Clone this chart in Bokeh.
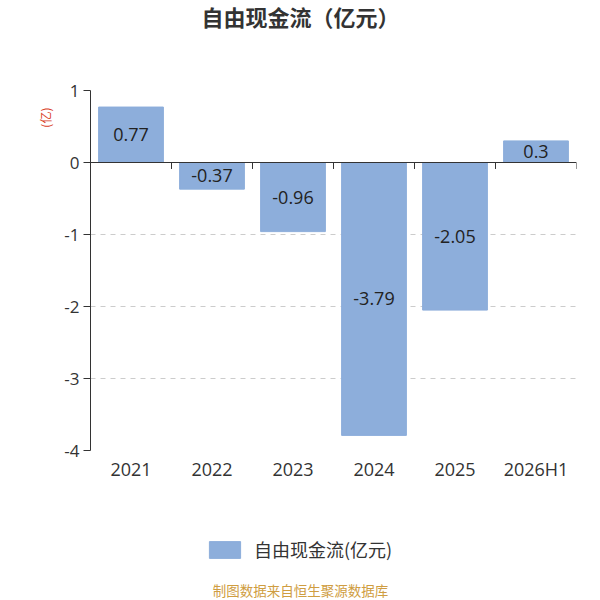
import math
from bokeh.plotting import figure
from bokeh.layouts import column, row
from bokeh.models import Range1d, FixedTicker, Label, Legend, LegendItem, ColumnDataSource
from bokeh.core.properties import value
from bokeh.embed import file_html
from bokeh.resources import INLINE

categories = ["2021", "2022", "2023", "2024", "2025", "2026H1"]
values = [0.77, -0.37, -0.96, -3.79, -2.05, 0.3]
y_ticks = [1, 0, -1, -2, -3, -4]
title_text = "自由现金流（亿元）"
unit_text = "(亿)"
legend_text = "自由现金流(亿元)"
footer_text = "制图数据来自恒生聚源数据库"

CJK = "Noto Sans CJK SC"
NUM = "Open Sans"
BAR = "#8DAEDB"
DARK = "#333333"


def blank(w, h):
    f = figure(width=w, height=h, x_range=Range1d(0, w), y_range=Range1d(0, h),
               output_backend="svg", toolbar_location=None, x_axis_type=None, y_axis_type=None,
               min_border=0)
    f.outline_line_color = None
    f.xgrid.visible = False
    f.ygrid.visible = False
    return f


# ---- top: title
top = blank(600, 78)
top.add_layout(Label(x=300, y=63, text=title_text, text_align="center", text_baseline="middle",
                     text_font=CJK, text_font_size="22px", text_font_style="bold", text_color=DARK))

# ---- left strip: unit label
strip = blank(56, 412)
strip.add_layout(Label(x=45, y=381, text=unit_text, angle=math.pi / 2, text_align="center",
                       text_baseline="middle", text_font=CJK, text_font_size="12px",
                       text_color="#D9401F"))

# ---- main chart
n = len(categories)
xs = [i + 0.5 for i in range(n)]
src = ColumnDataSource(dict(x=xs, top=values, mid=[v / 2 for v in values],
                            lab=[str(v) for v in values]))

p = figure(width=544, height=412, x_range=Range1d(0, n), y_range=Range1d(min(y_ticks), max(y_ticks)),
           output_backend="svg", toolbar_location=None,
           min_border_left=34, min_border_right=24, min_border_top=12, min_border_bottom=40)
p.outline_line_color = None

bars = p.vbar(x="x", top="top", bottom=0, width=0.8, source=src, fill_color=BAR, line_color=BAR)
p.text(x="x", y="mid", text="lab", source=src, text_align="center", text_baseline="middle",
       text_font=value(NUM), text_font_size="18px", text_color="#222222")

# zero line with ticks between categories
p.segment(x0=0, y0=0, x1=n, y1=0, line_color=DARK, line_width=1)
bx = [i + 1 for i in range(n)]
p.segment(x0=bx, y0=[0] * n, x1=bx, y1=[-0.09] * n, line_color=DARK, line_width=1)

p.yaxis.ticker = FixedTicker(ticks=y_ticks)
p.yaxis.major_label_overrides = {t: str(t) for t in y_ticks}
p.yaxis.minor_tick_line_color = None
p.yaxis.axis_line_color = DARK
p.yaxis.major_tick_line_color = DARK
p.yaxis.major_tick_out = 7
p.yaxis.major_tick_in = 0
p.yaxis.major_label_text_font = NUM
p.yaxis.major_label_text_font_size = "17px"
p.yaxis.major_label_text_color = DARK
p.yaxis.major_label_standoff = 4

p.xaxis.ticker = FixedTicker(ticks=xs)
p.xaxis.major_label_overrides = {x: c for x, c in zip(xs, categories)}
p.xaxis.axis_line_color = None
p.xaxis.major_tick_line_color = None
p.xaxis.minor_tick_line_color = None
p.xaxis.major_tick_out = 0
p.xaxis.major_tick_in = 0
p.xaxis.major_label_standoff = 6
p.xaxis.major_label_text_font = NUM
p.xaxis.major_label_text_font_size = "18px"
p.xaxis.major_label_text_color = DARK

p.xgrid.grid_line_color = None
p.ygrid.ticker = FixedTicker(ticks=y_ticks)
p.ygrid.grid_line_color = "#CCCCCC"
p.ygrid.grid_line_dash = "5 5"

# ---- bottom: legend + footer
bottom = blank(600, 110)
key = bottom.vbar(x="x", top="top", bottom=0, width=0.8, source=src,
                  fill_color=BAR, line_color=BAR, visible=False)
legend = Legend(items=[LegendItem(label=legend_text, renderers=[key])],
                location=(205, 38), orientation="horizontal",
                padding=0, margin=0, spacing=0,
                border_line_color=None, background_fill_alpha=0,
                glyph_width=39, glyph_height=21, label_standoff=10, label_height=21,
                label_text_font=CJK, label_text_font_size="18px", label_text_color=DARK,
                label_text_baseline="middle")
bottom.add_layout(legend)
bottom.add_layout(Label(x=300, y=11, text=footer_text, text_align="center", text_baseline="middle",
                        text_font=CJK, text_font_size="13.5px", text_color="#CF9D41"))

layout = column(top, row(strip, p), bottom)
open("out.html", "w").write(file_html(layout, INLINE))
